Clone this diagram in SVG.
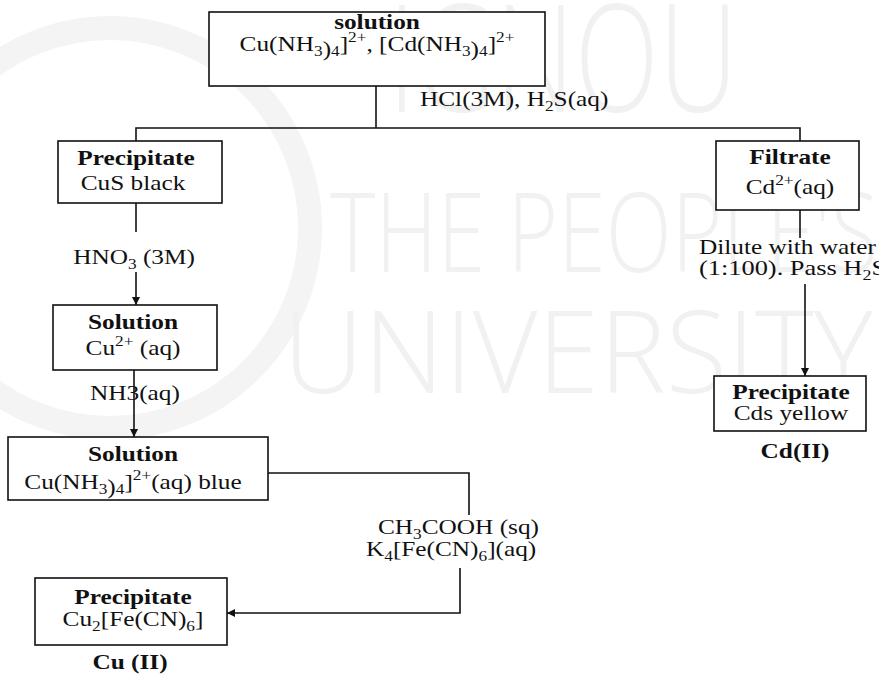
<svg xmlns="http://www.w3.org/2000/svg" width="879" height="674" viewBox="0 0 879 674">
  <defs>
    <marker id="arrow" viewBox="0 0 10 10" refX="10" refY="5" markerWidth="8" markerHeight="8" orient="auto" markerUnits="userSpaceOnUse">
      <path d="M0,0 L10,5 L0,10 z" fill="#111"/>
    </marker>
    <style>
      .box { fill: #fff; stroke: #111; stroke-width: 1.6; }
      .wire { fill: none; stroke: #111; stroke-width: 1.6; }
      text { font-family: "Liberation Serif", "Times New Roman", serif; font-size: 22px; fill: #111; }
      .b { font-weight: bold; }
      .c { text-anchor: middle; }
      .sm { font-size: 15px; }
      text.wm { font-family: "Open Sans", "Liberation Sans", sans-serif; font-weight: 300; fill: #f1f1f1; }
      text.wm1 { font-size: 150px; }
      text.wm2 { font-size: 110px; }
      text.wm3 { font-size: 115px; }
    </style>
  </defs>
  <rect width="879" height="674" fill="#fff"/>

  <!-- faint background lettering -->
  <g id="backdrop">
    <circle cx="110" cy="228" r="200" fill="none" stroke="#f4f4f4" stroke-width="24"/>
    <text class="wm wm1" x="388" y="112" textLength="350" lengthAdjust="spacingAndGlyphs">IGNOU</text>
    <text class="wm wm2" x="330" y="272" textLength="548" lengthAdjust="spacingAndGlyphs">THE PEOPLE'S</text>
    <text class="wm wm3" x="283" y="393" textLength="590" lengthAdjust="spacingAndGlyphs">UNIVERSITY</text>
  </g>

  <!-- connectors -->
  <g id="connectors">
    <line class="wire" x1="376" y1="86" x2="376" y2="128"/>
    <polyline class="wire" points="136,141 136,128 800,128 800,141"/>
    <line class="wire" x1="136" y1="203" x2="136" y2="232"/>
    <line class="wire" x1="136" y1="272" x2="136" y2="305" marker-end="url(#arrow)"/>
    <line class="wire" x1="134" y1="370" x2="134" y2="437" marker-end="url(#arrow)"/>
    <polyline class="wire" points="268,473 469,473 469,515"/>
    <polyline class="wire" points="460,568 460,613 227,613" marker-end="url(#arrow)"/>
    <line class="wire" x1="800" y1="210" x2="800" y2="238"/>
    <line class="wire" x1="805" y1="284" x2="805" y2="376" marker-end="url(#arrow)"/>
  </g>

  <!-- reagent labels (glyphs widened 1.15x about their anchor) -->
  <g id="labels">
    <text x="420" y="106" transform="matrix(1.15 0 0 1 -63 0)">HCl(3M), H<tspan class="sm" dy="5">2</tspan><tspan dy="-5">S(aq)</tspan></text>
    <text class="c" x="134" y="264" transform="matrix(1.15 0 0 1 -20.1 0)">HNO<tspan class="sm" dy="5">3</tspan><tspan dy="-5"> (3M)</tspan></text>
    <text x="90" y="400" transform="matrix(1.15 0 0 1 -13.5 0)">NH3(aq)</text>
    <text x="378" y="534" transform="matrix(1.15 0 0 1 -56.7 0)">CH<tspan class="sm" dy="5">3</tspan><tspan dy="-5">COOH (sq)</tspan></text>
    <text x="366" y="556" transform="matrix(1.15 0 0 1 -54.9 0)">K<tspan class="sm" dy="5">4</tspan><tspan dy="-5">[Fe(CN)</tspan><tspan class="sm" dy="5">6</tspan><tspan dy="-5">](aq)</tspan></text>
    <text x="699" y="254" transform="matrix(1.15 0 0 1 -104.85 0)">Dilute with water</text>
    <text x="699" y="275" transform="matrix(1.2 0 0 1 -139.8 0)">(1:100). Pass H<tspan class="sm" dy="5">2</tspan><tspan dy="-5">S</tspan></text>
  </g>

  <g id="start">
    <rect class="box" x="209" y="12" width="336" height="74"/>
    <text class="b c" x="377" y="29" transform="matrix(1.15 0 0 1 -56.55 0)">solution</text>
    <text class="c" x="377" y="51" transform="matrix(1.15 0 0 1 -56.55 0)">Cu(NH<tspan class="sm" dy="5">3</tspan><tspan>)</tspan><tspan class="sm">4</tspan><tspan dy="-5">]</tspan><tspan class="sm" dy="-9">2+</tspan><tspan dy="9">, [Cd(NH</tspan><tspan class="sm" dy="5">3</tspan><tspan>)</tspan><tspan class="sm">4</tspan><tspan dy="-5">]</tspan><tspan class="sm" dy="-9">2+</tspan></text>
  </g>

  <g id="cus-precipitate">
    <rect class="box" x="58" y="141" width="164" height="62"/>
    <text class="b c" x="136" y="165" transform="matrix(1.15 0 0 1 -20.4 0)">Precipitate</text>
    <text class="c" x="133" y="190" transform="matrix(1.15 0 0 1 -19.95 0)">CuS black</text>
  </g>

  <g id="cu-solution">
    <rect class="box" x="53" y="305" width="164" height="65"/>
    <text class="b c" x="133" y="329" transform="matrix(1.15 0 0 1 -19.95 0)">Solution</text>
    <text class="c" x="133" y="355" transform="matrix(1.15 0 0 1 -19.95 0)">Cu<tspan class="sm" dy="-9">2+</tspan><tspan dy="9"> (aq)</tspan></text>
  </g>

  <g id="ammine-solution">
    <rect class="box" x="8" y="437" width="260" height="63"/>
    <text class="b c" x="133" y="461" transform="matrix(1.15 0 0 1 -19.95 0)">Solution</text>
    <text class="c" x="133" y="489" transform="matrix(1.15 0 0 1 -19.95 0)">Cu(NH<tspan class="sm" dy="5">3</tspan><tspan>)</tspan><tspan class="sm">4</tspan><tspan dy="-5">]</tspan><tspan class="sm" dy="-9">2+</tspan><tspan dy="9">(aq) blue</tspan></text>
  </g>

  <g id="ferrocyanide-precipitate">
    <rect class="box" x="35" y="578" width="192" height="67"/>
    <text class="b c" x="133" y="604" transform="matrix(1.15 0 0 1 -19.95 0)">Precipitate</text>
    <text class="c" x="133" y="626" transform="matrix(1.15 0 0 1 -19.95 0)">Cu<tspan class="sm" dy="5">2</tspan><tspan dy="-5">[Fe(CN)</tspan><tspan class="sm" dy="5">6</tspan><tspan dy="-5">]</tspan></text>
    <text class="b c" x="130" y="669" transform="matrix(1.15 0 0 1 -19.5 0)">Cu (II)</text>
  </g>

  <g id="filtrate">
    <rect class="box" x="716" y="141" width="143" height="69"/>
    <text class="b c" x="790" y="164" transform="matrix(1.15 0 0 1 -118.5 0)">Filtrate</text>
    <text class="c" x="790" y="194" transform="matrix(1.15 0 0 1 -118.5 0)">Cd<tspan class="sm" dy="-9">2+</tspan><tspan dy="9">(aq)</tspan></text>
  </g>

  <g id="cds-precipitate">
    <rect class="box" x="714" y="376" width="152" height="55"/>
    <text class="b c" x="791" y="399" transform="matrix(1.15 0 0 1 -118.65 0)">Precipitate</text>
    <text class="c" x="791" y="420" transform="matrix(1.15 0 0 1 -118.65 0)">Cds yellow</text>
    <text class="b c" x="795" y="458" transform="matrix(1.15 0 0 1 -119.25 0)">Cd(II)</text>
  </g>
</svg>
